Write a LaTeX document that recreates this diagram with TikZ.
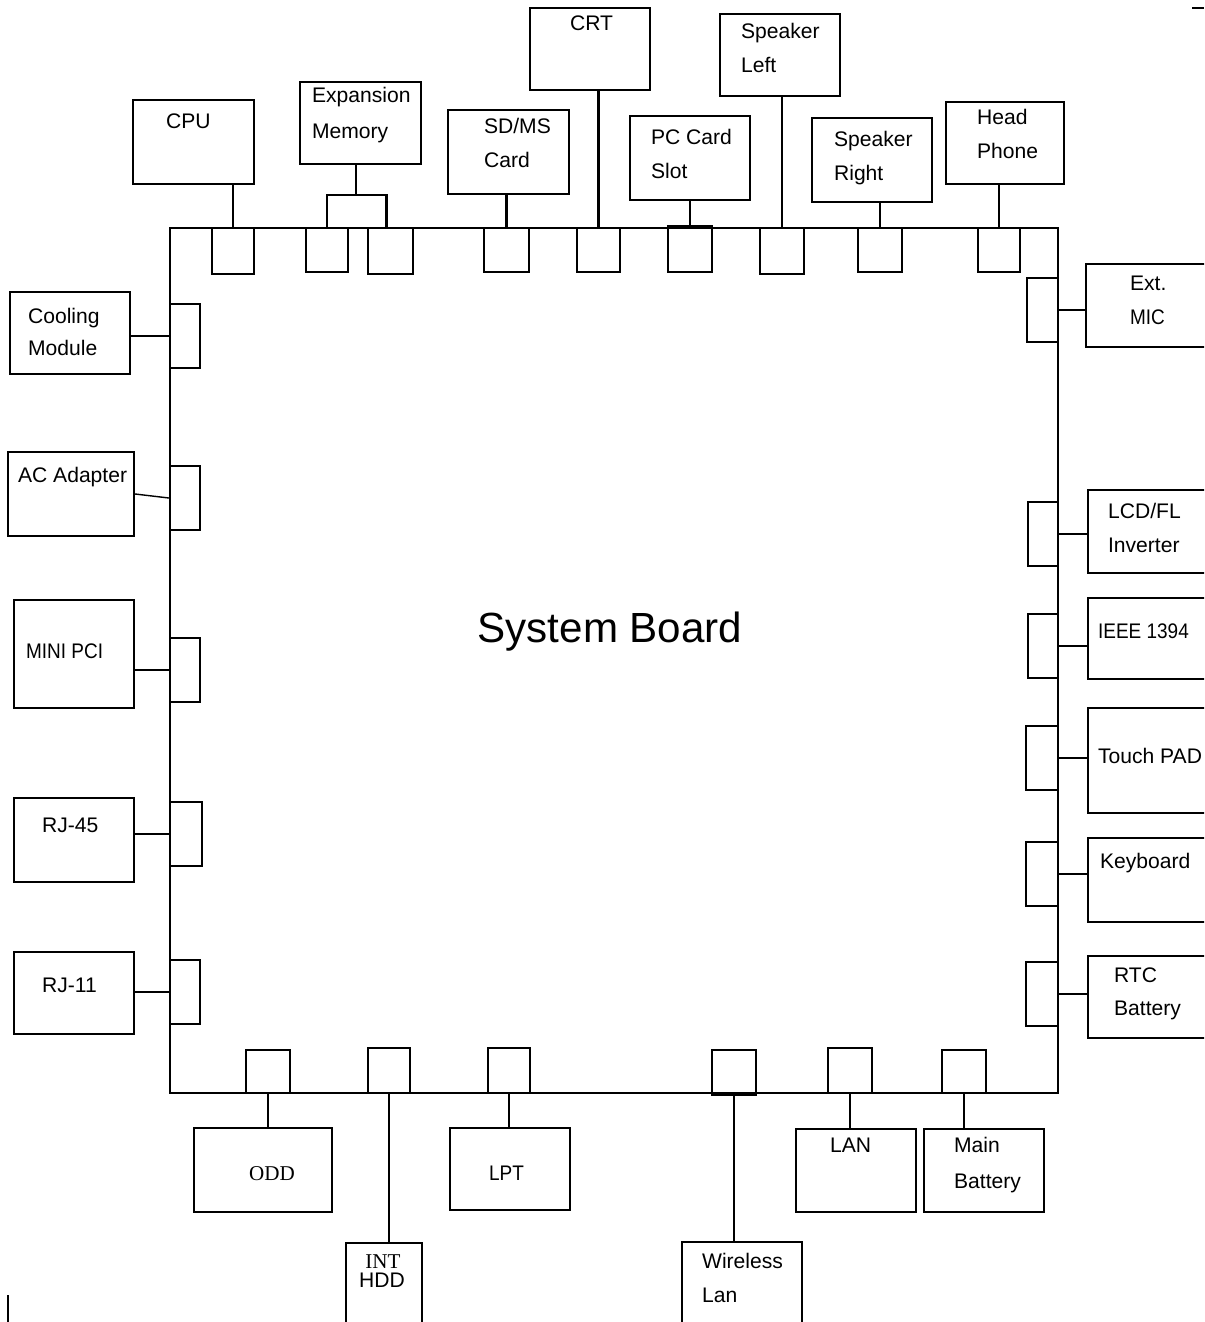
\documentclass[tikz,border=0pt]{standalone}
\usepackage{fontspec}
\setsansfont{Liberation Sans}
\newfontfamily\timesf{Liberation Serif}
\newfontfamily\narrowsf{Liberation Sans}[FakeStretch=0.9]
\usetikzlibrary{fit}
\newcommand\devsize{\fontsize{12}{14}\selectfont}

\begin{document}
\begin{tikzpicture}[x=0.02cm,y=-0.02cm,line width=1.25pt,
  font=\sffamily\devsize,
  dev/.style={draw,inner sep=0pt},
  port/.style={draw,inner sep=0pt},
  lbl/.style={inner sep=0pt,anchor=base west},
  lbln/.style={lbl,font=\narrowsf\devsize},
  lblr/.style={inner sep=0pt,anchor=base,font=\timesf\devsize}]
  \useasboundingbox (0,0) rectangle (1204,1322);
  \clip (0,0) rectangle (1204,1322);

  % board
  \node[dev,fit={(170,228) (1058,1093)}] (board) {};
  \node[inner sep=0pt,anchor=base,font=\sffamily\fontsize{24}{28}\selectfont]
    (boardlbl) at (610,642) {System Board};

  % top row
  \node[dev,fit={(133,100) (254,184)}] (cpu) {};
  \node[lbl] (cpulbl) at (165,128) {CPU};
  \node[port,fit={(212,228) (254,274)}] (cpuport) {};
  \draw (cpuport.north) -- (cpuport.north |- cpu.south);

  \node[dev,fit={(300,82) (421,164)}] (mem) {};
  \node[lbl] (memlbla) at (311,102) {Expansion};
  \node[lbl] (memlblb) at (311,138) {Memory};
  \node[port,fit={(306,228) (348,272)}] (memporta) {};
  \node[port,fit={(368,228) (413,274)}] (memportb) {};
  \coordinate (membr) at (356,195);
  \draw (membr |- mem.south) -- (membr);
  \draw (memporta.north) |- (membr) -| ([xshift=-4*0.02cm]memportb.north);

  \node[dev,fit={(448,110) (569,194)}] (sd) {};
  \node[lbl] (sdlbla) at (483,133) {SD/MS};
  \node[lbl] (sdlblb) at (483,167) {Card};
  \node[port,fit={(484,228) (529,272)}] (sdport) {};
  \draw (sdport.north) -- (sdport.north |- sd.south);

  \node[dev,fit={(530,8) (650,90)}] (crt) {};
  \node[lbl] (crtlbl) at (569,30) {CRT};
  \node[port,fit={(577,228) (620,272)}] (crtport) {};
  \draw (crtport.north) -- (crtport.north |- crt.south);

  \node[dev,fit={(630,116) (750,200)}] (pcc) {};
  \node[lbl] (pcclbla) at (650,144) {PC Card};
  \node[lbl] (pcclblb) at (650,178) {Slot};
  \node[port,fit={(668,228) (712,272)}] (pccport) {};
  \draw[line width=2pt] (pccport.north west) -- (pccport.north east);
  \draw (pccport.north) -- (pccport.north |- pcc.south);

  \node[dev,fit={(720,14) (840,96)}] (spl) {};
  \node[lbl] (spllbla) at (740,38) {Speaker};
  \node[lbl] (spllblb) at (740,72) {Left};
  \node[port,fit={(760,228) (804,274)}] (splport) {};
  \draw (splport.north) -- (splport.north |- spl.south);

  \node[dev,fit={(812,118) (932,202)}] (spr) {};
  \node[lbl] (sprlbla) at (833,146) {Speaker};
  \node[lbl] (sprlblb) at (833,180) {Right};
  \node[port,fit={(858,228) (902,272)}] (sprport) {};
  \draw (sprport.north) -- (sprport.north |- spr.south);

  \node[dev,fit={(946,102) (1064,184)}] (hp) {};
  \node[lbl] (hplbla) at (976,124) {Head};
  \node[lbl] (hplblb) at (976,158) {Phone};
  \node[port,fit={(978,228) (1020,272)}] (hpport) {};
  \draw (hpport.north) -- (hpport.north |- hp.south);

  % right column
  \node[dev,fit={(1086,264) (1220,347)}] (mic) {};
  \node[lbl] (miclbla) at (1129,290) {Ext.};
  \node[lbln] (miclblb) at (1129,324) {MIC};
  \node[port,fit={(1027,278) (1058,342)}] (micport) {};
  \draw (micport.east) -- (micport.east -| mic.west);

  \node[dev,fit={(1088,490) (1220,573)}] (lcd) {};
  \node[lbl] (lcdlbla) at (1107,518) {LCD/FL};
  \node[lbl] (lcdlblb) at (1107,552) {Inverter};
  \node[port,fit={(1028,502) (1058,566)}] (lcdport) {};
  \draw (lcdport.east) -- (lcdport.east -| lcd.west);

  \node[dev,fit={(1088,598) (1220,679)}] (ieee) {};
  \node[lbln] (ieeelbl) at (1097,638) {IEEE 1394};
  \node[port,fit={(1028,614) (1058,678)}] (ieeeport) {};
  \draw (ieeeport.east) -- (ieeeport.east -| ieee.west);

  \node[dev,fit={(1088,708) (1220,813)}] (tp) {};
  \node[lbl] (tplbl) at (1097,763) {Touch PAD};
  \node[port,fit={(1026,726) (1058,790)}] (tpport) {};
  \draw (tpport.east) -- (tpport.east -| tp.west);

  \node[dev,fit={(1088,838) (1220,922)}] (kb) {};
  \node[lbl] (kblbl) at (1099,868) {Keyboard};
  \node[port,fit={(1026,842) (1058,906)}] (kbport) {};
  \draw (kbport.east) -- (kbport.east -| kb.west);

  \node[dev,fit={(1088,956) (1220,1038)}] (rtc) {};
  \node[lbl] (rtclbla) at (1113,982) {RTC};
  \node[lbl] (rtclblb) at (1113,1015) {Battery};
  \node[port,fit={(1026,962) (1058,1026)}] (rtcport) {};
  \draw (rtcport.east) -- (rtcport.east -| rtc.west);

  % left column
  \node[dev,fit={(10,292) (130,374)}] (cool) {};
  \node[lbl] (coollbla) at (27,323) {Cooling};
  \node[lbl] (coollblb) at (27,355) {Module};
  \node[port,fit={(170,304) (200,368)}] (coolport) {};
  \draw (coolport.west) -- (coolport.west -| cool.east);

  \node[dev,fit={(8,452) (134,536)}] (ac) {};
  \node[lbl] (aclbl) at (17,482) {AC Adapter};
  \node[port,fit={(170,466) (200,530)}] (acport) {};
  \draw[line width=0.8pt] (ac.east) -- (acport.west);

  \node[dev,fit={(14,600) (134,708)}] (mpci) {};
  \node[lbln] (mpcilbl) at (25,658) {MINI PCI};
  \node[port,fit={(170,638) (200,702)}] (mpciport) {};
  \draw (mpciport.west) -- (mpciport.west -| mpci.east);

  \node[dev,fit={(14,798) (134,882)}] (rjlan) {};
  \node[lbl] (rjlanlbl) at (41,832) {RJ-45};
  \node[port,fit={(170,802) (202,866)}] (rjlanport) {};
  \draw (rjlanport.west) -- (rjlanport.west -| rjlan.east);

  \node[dev,fit={(14,952) (134,1034)}] (rjtel) {};
  \node[lbl] (rjtellbl) at (41,992) {RJ-11};
  \node[port,fit={(170,960) (200,1024)}] (rjtelport) {};
  \draw (rjtelport.west) -- (rjtelport.west -| rjtel.east);

  % bottom row
  \node[dev,fit={(194,1128) (332,1212)}] (odd) {};
  \node[lblr] (oddlbl) at (272,1180) {ODD};
  \node[port,fit={(246,1050) (290,1093)}] (oddport) {};
  \draw (oddport.south) -- (oddport.south |- odd.north);

  \node[dev,fit={(346,1243) (422,1340)}] (hdd) {};
  \node[lblr] (hddlbla) at (383,1268) {INT};
  \node[inner sep=0pt,anchor=base] (hddlblb) at (382,1287) {HDD};
  \node[port,fit={(368,1048) (410,1093)}] (hddport) {};
  \draw (hddport.south) -- (hddport.south |- hdd.north);

  \node[dev,fit={(450,1128) (570,1210)}] (lpt) {};
  \node[lbln] (lptlbl) at (488,1180) {LPT};
  \node[port,fit={(488,1048) (530,1093)}] (lptport) {};
  \draw (lptport.south) -- (lptport.south |- lpt.north);

  \node[dev,fit={(682,1242) (802,1340)}] (wlan) {};
  \node[lbl] (wlanlbla) at (701,1268) {Wireless};
  \node[lbl] (wlanlblb) at (701,1302) {Lan};
  \node[port,fit={(712,1050) (756,1093)}] (wlanport) {};
  \draw[line width=2pt] (wlanport.south west) -- (wlanport.south east);
  \draw (wlanport.south) -- (wlanport.south |- wlan.north);

  \node[dev,fit={(796,1129) (916,1212)}] (lan) {};
  \node[lbl] (lanlbl) at (829,1152) {LAN};
  \node[port,fit={(828,1048) (872,1093)}] (lanport) {};
  \draw (lanport.south) -- (lanport.south |- lan.north);

  \node[dev,fit={(924,1129) (1044,1212)}] (mbat) {};
  \node[lbl] (mbatlbla) at (953,1152) {Main};
  \node[lbl] (mbatlblb) at (953,1188) {Battery};
  \node[port,fit={(942,1050) (986,1093)}] (mbatport) {};
  \draw (mbatport.south) -- (mbatport.south |- mbat.north);

  % stray marks at the page edges
  \draw (1192,8) -- (1204,8);
  \draw (8,1295) -- (8,1322);
\end{tikzpicture}
\end{document}
